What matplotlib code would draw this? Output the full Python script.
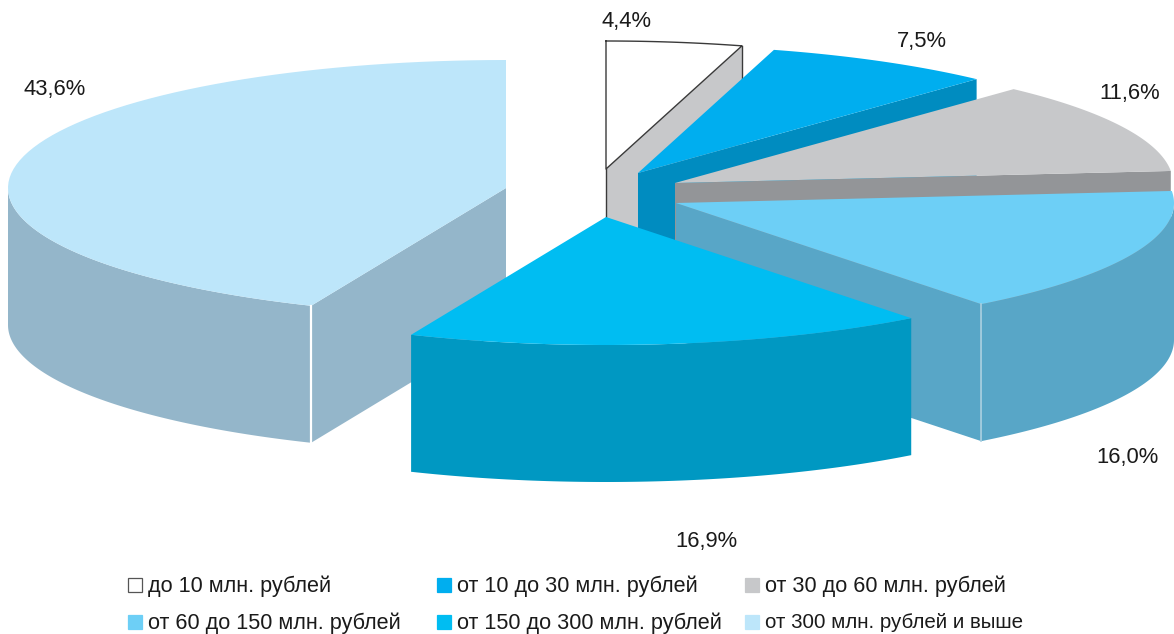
import numpy as np
import matplotlib
matplotlib.use("Agg")
import matplotlib.pyplot as plt
from matplotlib.patches import Polygon, Rectangle

plt.rcParams["font.family"] = ["Liberation Sans", "DejaVu Sans"]

# ── data ──────────────────────────────────────────────
categories = ["до 10 млн. рублей", "от 10 до 30 млн. рублей", "от 30 до 60 млн. рублей",
              "от 60 до 150 млн. рублей", "от 150 до 300 млн. рублей", "от 300 млн. рублей и выше"]
shares = [4.4, 7.5, 11.6, 16.0, 16.9, 43.6]
value_labels = ["4,4%", "7,5%", "11,6%", "16,0%", "16,9%", "43,6%"]

# ── style and layout (pixel coordinates of the reference) ──
top_colors = ["#ffffff", "#00aeef", "#c7c8ca", "#6dcff6", "#00bdf2", "#bde6fa"]
side_colors = ["#c7c8ca", "#008cc0", "#939598", "#58a6c7", "#0098c2", "#94b6ca"]
apex_x = [606, 638, 675, 676, 606, 506]
apex_y = [169, 173, 183, 203, 217, 188]
label_x = [627, 922, 1130, 1127, 706, 55]
label_y = [22, 41, 94, 457, 541, 90]
legend_x = [128, 437, 745, 128, 437, 745]
legend_y = [585, 585, 585, 622, 622, 622]
legend_size = [15.6, 15.6, 15.6, 15.6, 15.6, 14.8]
# which radial edge shows a cut face: 1 closing, 0 opening, None hidden
cut_edge = [1, 1, 1, 1, None, 0]
RX, RY, DEPTH = 498, 128, 137

fig = plt.figure(figsize=(11.74, 6.34), dpi=100)
ax = fig.add_axes([0, 0, 1, 1])
ax.set_xlim(0, 1174)
ax.set_ylim(634, 0)
ax.axis("off")

edges = np.radians(np.concatenate([[0], np.cumsum(shares)]) / sum(shares) * 360)


def arc(i, a0, a1):
    # outer edge of slice i, angle runs clockwise from 12 o'clock
    t = np.linspace(a0, a1, 80)
    return np.column_stack([apex_x[i] + RX * np.sin(t), apex_y[i] - RY * np.cos(t)])


def draw_slice(i, zorder):
    top = arc(i, edges[i], edges[i + 1])
    apex = np.array([apex_x[i], apex_y[i]], dtype=float)
    down = np.array([0, DEPTH])
    # cut face along one radial edge
    if cut_edge[i] is not None:
        end = top[-1] if cut_edge[i] else top[0]
        ax.add_patch(Polygon([apex, end, end + down, apex + down], closed=True,
                             fc=side_colors[i], ec="none", zorder=zorder))
    # cylinder wall, only the part that faces the viewer
    a0 = max(edges[i], np.pi / 2)
    a1 = min(edges[i + 1], 3 * np.pi / 2)
    if a1 > a0:
        rim = arc(i, a0, a1)
        ax.add_patch(Polygon(np.vstack([rim, (rim + down)[::-1]]), closed=True,
                             fc=side_colors[i], ec="none", zorder=zorder))
    # top face
    ax.add_patch(Polygon(np.vstack([apex, top]), closed=True,
                         fc=top_colors[i], ec="none", zorder=zorder + 0.5))
    return top, apex, down


# back to front
order = [0, 1, 2, 5, 3, 4]
parts = {}
for z, i in enumerate(order):
    parts[i] = draw_slice(i, z + 1)

# outline of the white slice and the pale seams
top, apex, down = parts[0]
ax.plot(*np.vstack([top, apex, top[:1]]).T, color="#3a3a3a", lw=1.0, zorder=1.6)
ax.plot(*np.array([apex, apex + [0, 48]]).T, color="#3a3a3a", lw=1.0, zorder=1.6)
ax.plot(*np.array([top[-1], top[-1] + [0, 34]]).T, color="#3a3a3a", lw=1.0, zorder=1.6)

top, apex, down = parts[5]
ax.plot(*np.array([top[0], top[0] + down]).T, color="#ffffff", lw=1.6, zorder=4.6)

top, apex, down = parts[3]
ax.plot(*np.array([top[-1], top[-1] + down]).T, color="#a9cfe0", lw=1.2, zorder=5.6)

# value labels
for lab, x, y in zip(value_labels, label_x, label_y):
    ax.text(x, y, lab, ha="center", va="center", fontsize=15.8, color="#1a1a1a", zorder=10)

# legend
for i, name in enumerate(categories):
    ec = "#555555" if i == 0 else top_colors[i]
    ax.add_patch(Rectangle((legend_x[i], legend_y[i] - 7), 14, 14, fc=top_colors[i],
                           ec=ec, lw=0.9, zorder=10))
    ax.text(legend_x[i] + 20, legend_y[i] + 1, name, ha="left", va="center",
            fontsize=legend_size[i], color="#1a1a1a", zorder=10)

fig.savefig("out.png", dpi=100)
